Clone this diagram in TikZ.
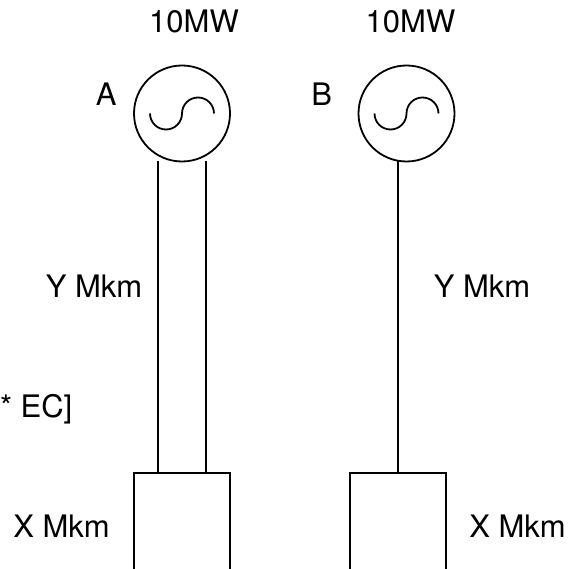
\documentclass[tikz,border=0pt]{standalone}
\usepackage{fontspec}
\setmainfont{TeX Gyre Heros}
\usetikzlibrary{positioning,calc}

\begin{document}
\begin{tikzpicture}[
        x=1pt, y=1pt,
        node distance=2pt and 14pt,
        gen/.style={circle, draw=black, line width=1.8pt, minimum size=96pt, inner sep=0pt, outer sep=0pt},
        plant/.style={rectangle, draw=black, line width=1.8pt, minimum width=96pt, minimum height=140pt, inner sep=0pt, outer sep=0pt},
        lbl/.style={font=\fontsize{31}{37}\selectfont, inner sep=0pt, outer sep=0pt},
        wire/.style={line width=1.8pt},
        wave/.style={line width=1.8pt}
    ]
        \useasboundingbox (0,0) rectangle (580,-569);
        \clip (0,0) rectangle (580,-569);

        \node[gen] (genA) at (182,-113.5) {};
        \node[gen, right=128.5pt of genA] (genB) {};
        \node[plant, anchor=north] (plantA) at (182,-473) {};
        \node[plant, anchor=north] (plantB) at (398,-473) {};

        \node[lbl, above=33pt of genA, xshift=12pt] (powerA) {10MW};
        \node[lbl, above=33pt of genB, xshift=4pt] (powerB) {10MW};
        \node[lbl, left=17.5pt of genA, yshift=19.5pt] (nameA) {A};
        \node[lbl, left=26.5pt of genB, yshift=19.5pt] (nameB) {B};
        \node[lbl, anchor=base] (lenA) at (94,-297) {Y Mkm};
        \node[lbl, anchor=base] (lenB) at (482,-297) {Y Mkm};
        \node[lbl, anchor=base west] (note) at (0,-417) {* EC]};
        \node[lbl, anchor=base] (sizeA) at (61.5,-537) {X Mkm};
        \node[lbl, anchor=base] (sizeB) at (517.5,-537) {X Mkm};

        \draw[wave] ($(genA.center)+(-32,0)$) arc (180:360:16) arc (180:0:16);
        \draw[wave] ($(genB.center)+(-32,0)$) arc (180:360:16) arc (180:0:16);

        \draw[wire] ($(genA.south)+(-24,0)$) -- ($(plantA.north)+(-24,0)$);
        \draw[wire] ($(genA.south)+(24,0)$) -- ($(plantA.north)+(24,0)$);
        \draw[wire] (plantB.north |- genB.south) -- (plantB.north);
    \end{tikzpicture}
\end{document}
